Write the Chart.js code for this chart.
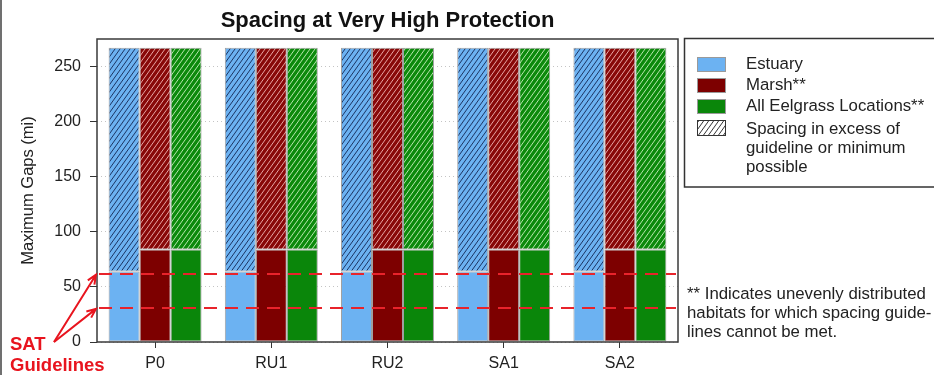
<!DOCTYPE html>
<html>
<head>
<meta charset="utf-8">
<script src="https://cdn.jsdelivr.net/npm/chart.js@4"></script>
<style>
  html, body { margin: 0; padding: 0; background: #fff; }
  canvas { display: block; }
</style>
</head>
<body>
<canvas id="gapChart" width="934" height="375"></canvas>
<script>
// Scenarios along the x axis
const scenarios = ['P0', 'RU1', 'RU2', 'SA1', 'SA2'];

// Spacing met for each habitat and the largest gap found (mi)
const estuaryMet = [64, 64, 64, 64, 64];
const marshMet = [84, 84, 84, 84, 84];
const eelgrassMet = [84, 84, 84, 84, 84];
const maxGap = [267, 267, 267, 267, 267];

// SAT guideline spacings (mi)
const satGuidelines = [31, 62];

const legendLabels = ['Estuary', 'Marsh**', 'All Eelgrass Locations**'];
const hatchLabel = ['Spacing in excess of', 'guideline or minimum', 'possible'];
const noteLines = ['** Indicates unevenly distributed', 'habitats for which spacing guide-', 'lines cannot be met.'];

const FONT = "'Liberation Sans', Arial, sans-serif";
Chart.defaults.font.family = FONT;
Chart.defaults.color = '#222';

const colors = {
  estuary: '#6cb2f2',
  marsh: '#7d0000',
  eelgrass: '#0a860a'
};

// diagonal hatch fill used for the part above the guideline
function hatch(bg, line) {
  const w = 5, h = 7;
  const c = document.createElement('canvas');
  c.width = w; c.height = h;
  const g = c.getContext('2d');
  g.fillStyle = bg;
  g.fillRect(0, 0, w, h);
  g.strokeStyle = line;
  g.lineWidth = 1;
  g.beginPath();
  [-w, 0, w].forEach(dx => {
    g.moveTo(dx - 1, h + 1.4);
    g.lineTo(dx + w + 1, -1.4);
  });
  g.stroke();
  return g.createPattern(c, 'repeat');
}

const excess = met => met.map((v, i) => maxGap[i] - v);

function bar(label, data, bg, stack) {
  return {
    label, data, stack,
    backgroundColor: bg,
    borderColor: '#a0a0a0',
    borderWidth: 1,
    borderSkipped: false
  };
}

const datasets = [
  bar('Estuary', estuaryMet, colors.estuary, 'estuary'),
  bar('Estuary excess', excess(estuaryMet), hatch(colors.estuary, '#1c3563'), 'estuary'),
  bar('Marsh', marshMet, colors.marsh, 'marsh'),
  bar('Marsh excess', excess(marshMet), hatch('#880808', '#e6a3a3'), 'marsh'),
  bar('All Eelgrass Locations', eelgrassMet, colors.eelgrass, 'eelgrass'),
  bar('Eelgrass excess', excess(eelgrassMet), hatch('#0c8a0c', '#b5e6ad'), 'eelgrass')
];

function arrow(ctx, x0, y0, x1, y1) {
  const ang = Math.atan2(y1 - y0, x1 - x0);
  ctx.beginPath();
  ctx.moveTo(x0, y0);
  ctx.lineTo(x1, y1);
  ctx.moveTo(x1 - 10 * Math.cos(ang - 0.4), y1 - 10 * Math.sin(ang - 0.4));
  ctx.lineTo(x1, y1);
  ctx.lineTo(x1 - 10 * Math.cos(ang + 0.4), y1 - 10 * Math.sin(ang + 0.4));
  ctx.stroke();
}

const extras = {
  id: 'extras',
  afterDatasetsDraw(chart) {
    const { ctx, chartArea: a, scales: { y } } = chart;
    ctx.save();
    // SAT guideline lines
    ctx.strokeStyle = '#e8232b';
    ctx.lineWidth = 2;
    ctx.setLineDash([13, 8]);
    satGuidelines.forEach(v => {
      const py = Math.round(y.getPixelForValue(v));
      ctx.beginPath();
      ctx.moveTo(a.left + 2, py);
      ctx.lineTo(a.right - 2, py);
      ctx.stroke();
    });
    ctx.setLineDash([]);
    // plot frame
    ctx.strokeStyle = '#3a3a3a';
    ctx.lineWidth = 1.5;
    ctx.strokeRect(a.left, a.top, a.right - a.left, a.bottom - a.top);
    ctx.restore();
  },
  afterDraw(chart) {
    const { ctx, chartArea: a, scales: { y } } = chart;
    ctx.save();

    // left edge line
    ctx.fillStyle = '#707070';
    ctx.fillRect(0, 0, 2, chart.height);

    // legend box
    ctx.strokeStyle = '#333';
    ctx.lineWidth = 1.5;
    ctx.strokeRect(684.5, 38.5, 270, 148.5);

    const swatches = [colors.estuary, colors.marsh, colors.eelgrass];
    ctx.font = '16.8px ' + FONT;
    ctx.textBaseline = 'middle';
    swatches.forEach((col, i) => {
      const sy = 57 + i * 21;
      ctx.fillStyle = col;
      ctx.fillRect(697, sy, 29, 15);
      ctx.strokeStyle = '#9a9a9a';
      ctx.lineWidth = 1;
      ctx.strokeRect(697.5, sy + 0.5, 28, 14);
      ctx.fillStyle = '#222';
      ctx.fillText(legendLabels[i], 746, sy + 7);
    });
    ctx.fillStyle = hatch('#ffffff', '#333333');
    ctx.fillRect(697, 120, 29, 16);
    ctx.strokeStyle = '#333';
    ctx.strokeRect(697.5, 120.5, 28, 15);
    ctx.fillStyle = '#222';
    hatchLabel.forEach((t, i) => ctx.fillText(t, 746, 129 + i * 19));

    // footnote
    noteLines.forEach((t, i) => ctx.fillText(t, 687, 294 + i * 19));

    // SAT guideline callout
    ctx.fillStyle = '#e8141e';
    ctx.font = 'bold 18.5px ' + FONT;
    ctx.fillText('SAT', 10, 345);
    ctx.fillText('Guidelines', 10, 366);
    ctx.strokeStyle = '#e8141e';
    ctx.lineWidth = 2;
    satGuidelines.forEach(v => arrow(ctx, 54, 342, a.left - 1, y.getPixelForValue(v) + 1));

    ctx.restore();
  }
};

new Chart(document.getElementById('gapChart'), {
  type: 'bar',
  data: { labels: scenarios, datasets },
  options: {
    responsive: false,
    animation: false,
    devicePixelRatio: 1,
    layout: { padding: { left: 0, right: 256, top: 0, bottom: 0 } },
    datasets: { bar: { categoryPercentage: 0.8, barPercentage: 1 } },
    plugins: {
      legend: { display: false },
      tooltip: { enabled: false },
      title: {
        display: true,
        text: 'Spacing at Very High Protection',
        fullSize: false,
        color: '#111',
        font: { size: 22, weight: 'bold' },
        padding: { top: 8, bottom: 4.6 }
      }
    },
    scales: {
      x: {
        stacked: true,
        grid: { offset: false, drawOnChartArea: false, tickLength: 6, tickColor: '#333', tickWidth: 1 },
        border: { display: false },
        ticks: { font: { size: 16 }, color: '#222', padding: 6 },
        afterFit: s => { s.height = 33; }
      },
      y: {
        stacked: true,
        min: 0,
        max: 275,
        ticks: { stepSize: 50, includeBounds: false, font: { size: 16 }, color: '#222', padding: 9 },
        grid: { color: '#c4c4c4', tickColor: '#333', tickLength: 7, tickWidth: 1 },
        border: { display: false, dash: [1, 3] },
        title: { display: true, text: 'Maximum Gaps (mi)', font: { size: 16.5 }, color: '#222', padding: { top: 19 } },
        afterFit: s => { s.width = 97; }
      }
    }
  },
  plugins: [extras]
});
</script>
</body>
</html>
